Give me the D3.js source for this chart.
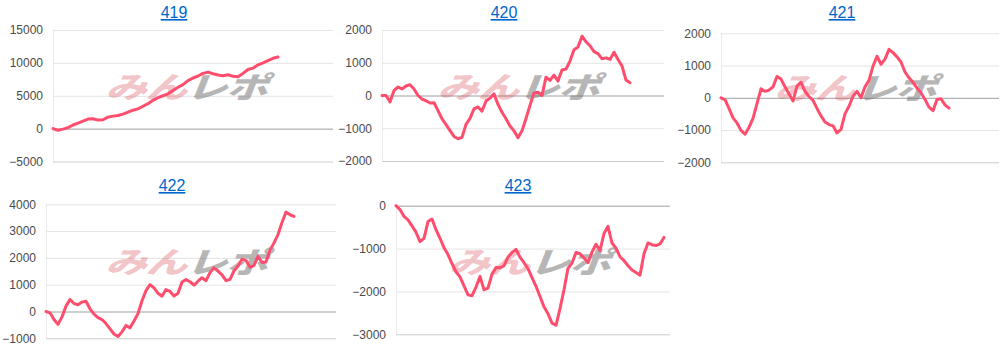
<!DOCTYPE html>
<html><head><meta charset="utf-8">
<script src="https://cdn.jsdelivr.net/npm/d3@7"></script>
<style>body{margin:0;background:#fff}</style>
</head><body>
<svg id="c" width="1004" height="348"></svg>
<script>
const titles = ["419", "420", "421", "422", "423"];

const ticks419 = [-5000, 0, 5000, 10000, 15000];
const ticks420 = [-2000, -1000, 0, 1000, 2000];
const ticks421 = [-2000, -1000, 0, 1000, 2000];
const ticks422 = [-1000, 0, 1000, 2000, 3000, 4000];
const ticks423 = [-3000, -2000, -1000, 0];

const series419 = [0,-250,-80,150,550,850,1150,1450,1500,1300,1350,1750,1900,2000,2200,2500,2800,3000,3400,3800,4300,4700,5000,5300,5800,6300,6700,7300,7700,8000,8400,8600,8350,8150,8050,8200,7950,7900,8400,9000,9200,9700,10000,10350,10700,10900];
const series420 = [0,0,-200,150,260,200,290,330,200,0,-110,-160,-230,-220,-460,-710,-890,-1070,-1250,-1320,-1280,-880,-700,-410,-350,-480,-170,-80,50,-270,-510,-710,-930,-1080,-1290,-1080,-700,-300,80,100,0,560,460,620,440,780,810,1050,1400,1480,1810,1640,1520,1340,1280,1120,1150,1100,1320,1100,900,470,390];
const series421 = [0,-60,-330,-620,-780,-1010,-1130,-920,-640,-180,280,200,240,340,660,580,340,120,-100,360,480,200,40,-80,-330,-560,-750,-830,-870,-1090,-980,-500,-260,50,200,0,340,540,980,1290,1040,1200,1500,1400,1270,1110,800,620,480,300,160,-50,-290,-400,-50,-30,-220,-320];
const series422 = [0,-50,-300,-480,-200,200,450,300,250,350,380,100,-100,-230,-300,-450,-650,-840,-930,-760,-520,-610,-350,-80,400,780,1000,880,680,570,820,750,580,680,1100,1190,1110,980,1130,1260,1150,1450,1630,1510,1370,1150,1200,1520,1700,1950,1900,1650,1720,2060,1830,1850,2290,2560,2870,3320,3710,3610,3550];
const series423 = [0,-90,-250,-330,-470,-620,-840,-760,-370,-310,-560,-760,-980,-1140,-1350,-1540,-1660,-1870,-2080,-2100,-1900,-1650,-1960,-1920,-1600,-1440,-1450,-1400,-1200,-1090,-1020,-1200,-1330,-1470,-1680,-1880,-2120,-2360,-2520,-2740,-2790,-2400,-1960,-1460,-1340,-1090,-1120,-1220,-1330,-1080,-900,-1050,-650,-480,-870,-990,-1190,-1280,-1400,-1500,-1560,-1620,-1120,-870,-910,-930,-890,-740];

const allSeries = [series419, series420, series421, series422, series423];
const allTicks = [ticks419, ticks420, ticks421, ticks422, ticks423];

// layout (positions only)
const layout = [
  {left: 53,  right: 333, top: 30,    bottom: 161.5, slots: 56,   tx: 174, ty: 18,  wx: 190, wy: 87},
  {left: 382, right: 664, top: 30,    bottom: 161,   slots: 70.5, tx: 504, ty: 18,  wx: 522, wy: 87},
  {left: 721, right: 999, top: 33.3,  bottom: 162.3, slots: 69.5, tx: 842, ty: 18,  wx: 859, wy: 88},
  {left: 46,  right: 336, top: 204.3, bottom: 338.3, slots: 72.5, tx: 172, ty: 191, wx: 190, wy: 262},
  {left: 396, right: 670, top: 205.7, bottom: 334.3, slots: 68.5, tx: 518, ty: 191, wx: 533, wy: 262}
];

const svg = d3.select("#c");
const font = "'Liberation Sans', Arial, sans-serif";

titles.forEach((t, i) => {
  const L = layout[i];
  const data = allSeries[i];
  const ticks = allTicks[i];
  const g = svg.append("g");
  const x = d3.scaleLinear().domain([0, L.slots]).range([L.left, L.right]);
  const y = d3.scaleLinear().domain(d3.extent(ticks)).range([L.bottom, L.top]);
  const minT = d3.min(ticks);

  // left vertical axis line
  g.append("line").attr("x1", L.left + 0.5).attr("x2", L.left + 0.5)
    .attr("y1", L.top).attr("y2", L.bottom).attr("stroke", "#ebebeb");

  const ax = g.append("g").attr("transform", `translate(${L.left},0)`)
    .call(d3.axisLeft(y).tickValues(ticks).tickSize(-(L.right - L.left)).tickPadding(10).tickFormat(d3.format("d")));
  ax.select(".domain").remove();
  ax.selectAll(".tick line")
    .attr("stroke", d => d === 0 ? "#9e9e9e" : (d === minT ? "#cccccc" : "#e4e4e4"))
    .attr("stroke-width", 1);
  ax.selectAll(".tick text")
    .attr("fill", "#4a4a4a").style("font-family", font).style("font-size", "12px");

  // watermark
  const wm = g.append("g").attr("transform", `translate(${L.wx},${L.wy}) scale(1.15,0.82) skewX(-16)`);
  const wt = wm.append("text").attr("text-anchor", "middle").attr("dy", "0.36em")
    .style("font-family", "'Noto Sans CJK JP', sans-serif").style("font-weight", 900)
    .style("font-size", "36px").attr("letter-spacing", "-1");
  wt.append("tspan").attr("fill", "rgba(215,70,85,0.32)").text("みん");
  wt.append("tspan").attr("fill", "rgba(110,110,110,0.5)").text("レポ");

  // line
  g.append("path").datum(data)
    .attr("fill", "none").attr("stroke", "#ff4d6d").attr("stroke-width", 3)
    .attr("stroke-linejoin", "round").attr("stroke-linecap", "round")
    .attr("d", d3.line().x((d, j) => x(j)).y(d => y(d)));

  // title
  g.append("text").attr("x", L.tx).attr("y", L.ty).attr("text-anchor", "middle")
    .attr("fill", "#0066cc").style("font-family", font).style("font-size", "16px")
    .style("text-decoration", "underline").text(t);
});
</script>
</body></html>
